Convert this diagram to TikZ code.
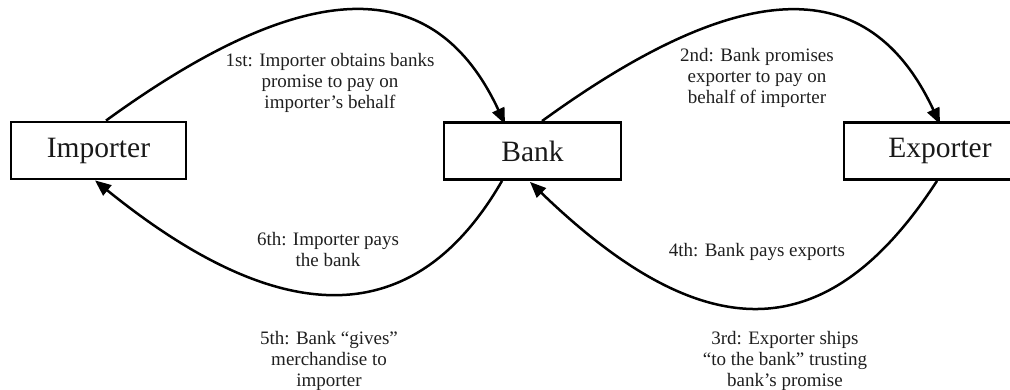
\documentclass[tikz,border=0pt]{standalone}
\usepackage{fontspec}
\setmainfont{Liberation Serif}
\usetikzlibrary{arrows.meta}
\begin{document}
\begin{tikzpicture}[x=1pt,y=1pt,
  party/.style={draw=black, line width=2.8pt, minimum height=57pt, inner sep=0pt,
    font=\fontsize{29.5}{32}\selectfont, text=black!90},
  flow/.style={line width=2.5pt, -{Triangle[length=16pt,width=13pt]}},
  note/.style={align=center, inner sep=0pt, text=black!88,
    font=\fontsize{19}{21}\selectfont}]
  \clip (0,0) rectangle (1010,390);

  % the three parties
  \node[party, minimum width=175pt] (imp)  at (98.5,239.5) {Importer};
  \node[party, minimum width=177pt] (bank) at (532.5,239)  {Bank};
  \node[party, minimum width=192pt] (exp)  at (940,239)    {Exporter};

  % upper arcs: promises
  \draw[flow] ([xshift=7.5pt]imp.north) .. controls +(36:249) and +(115:167)
    .. ([xshift=-27.5pt,yshift=-3pt]bank.north);
  \draw[flow] ([xshift=9.5pt]bank.north) .. controls +(36:249) and +(115:167)
    .. ([yshift=-3pt]exp.north);

  % lower arcs: payments
  \draw[flow] ([xshift=-30.5pt]bank.south) .. controls +(240:173) and +(-39:242)
    .. ([xshift=-3.5pt]imp.south);
  \draw[flow] ([xshift=-3pt]exp.south) .. controls +(237:201) and +(-44:242)
    .. ([xshift=-2.5pt,yshift=-1pt]bank.south);

  % step descriptions
  \node[note] (s1) at (330,307) {1st: Importer obtains banks\\promise to pay on\\importer’s behalf};
  \node[note] (s2) at (757,312) {2nd: Bank promises\\exporter to pay on\\behalf of importer};
  \node[note] (s6) at (328,140) {6th: Importer pays\\the bank};
  \node[note] (s4) at (757,138) {4th: Bank pays exports};
  \node[note] (s5) at (329,29)  {5th: Bank “gives”\\merchandise to\\importer};
  \node[note] (s3) at (785,29)  {3rd: Exporter ships\\“to the bank” trusting\\bank’s promise};
\end{tikzpicture}
\end{document}
